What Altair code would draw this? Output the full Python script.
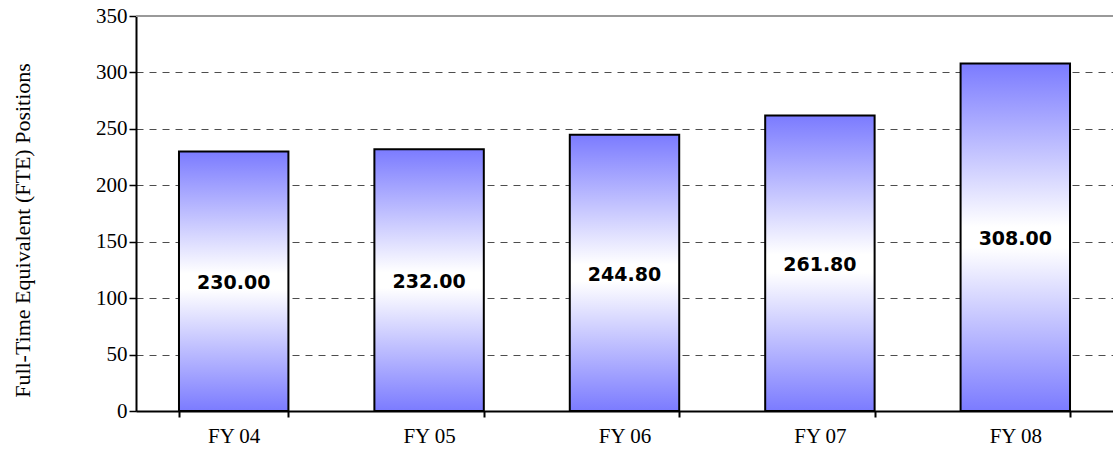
import altair as alt
import pandas as pd

categories = ["FY 04", "FY 05", "FY 06", "FY 07", "FY 08"]
values = [230.00, 232.00, 244.80, 261.80, 308.00]
labels = ["230.00", "232.00", "244.80", "261.80", "308.00"]
y_top = [350]

df = pd.DataFrame({"cat": categories, "val": values, "lab": labels})
df["half"] = df["val"] / 2

grad = alt.Gradient(
    gradient="linear",
    x1=0, y1=0, x2=0, y2=1,
    stops=[
        alt.GradientStop(color="#7b7bff", offset=0),
        alt.GradientStop(color="#ffffff", offset=0.47),
        alt.GradientStop(color="#ffffff", offset=0.53),
        alt.GradientStop(color="#7b7bff", offset=1),
    ],
)

xenc = alt.X(
    "cat:N", sort=categories, title=None,
    scale=alt.Scale(paddingInner=0.44, paddingOuter=0.22),
    axis=alt.Axis(labelAngle=0, tickBand="extent", labelFont="Liberation Serif",
                  labelFontSize=21, labelColor="black", domainColor="black",
                  domainWidth=2, tickColor="black", tickWidth=2, tickSize=6,
                  labelPadding=8, grid=False),
)

bars = alt.Chart(df).mark_bar(color=grad, stroke="black", strokeWidth=2).encode(
    x=xenc,
    y=alt.Y("val:Q", scale=alt.Scale(domain=[0, 350]),
            title="Full-Time Equivalent (FTE) Positions",
            axis=alt.Axis(values=[0, 50, 100, 150, 200, 250, 300, 350],
                          labelFont="Liberation Serif", labelFontSize=21, labelColor="black",
                          domainColor="black", domainWidth=2, tickColor="black",
                          tickWidth=1.5, tickSize=7, labelPadding=2,
                          grid=True, gridDash=[7, 6], gridColor="#4d4d4d", gridWidth=1,
                          titleFont="Liberation Serif", titleFontSize=22,
                          titleFontWeight="normal", titleColor="black",
                          titleX=-114, titleY=214, titleAngle=-90,
                          titleAlign="center", titleBaseline="middle")),
)

toprule = alt.Chart(pd.DataFrame({"y": y_top})).mark_rule(color="#999999", strokeWidth=2).encode(
    y=alt.Y("y:Q", scale=alt.Scale(domain=[0, 350]))
)

text = alt.Chart(df).mark_text(font="DejaVu Sans", fontWeight="bold", fontSize=19,
                               color="black", baseline="middle", dy=2).encode(
    x=alt.X("cat:N", sort=categories),
    y=alt.Y("half:Q"),
    text="lab:N",
)

chart = alt.layer(bars, toprule, text).properties(
    width=977, height=395,
    autosize=alt.AutoSizeParams(type="none"),
    padding={"left": 136, "top": 16, "right": 0, "bottom": 40},
).configure_view(stroke=None).configure(background="white")

chart.save("out.html", embed_options={"renderer": "svg", "actions": False})
